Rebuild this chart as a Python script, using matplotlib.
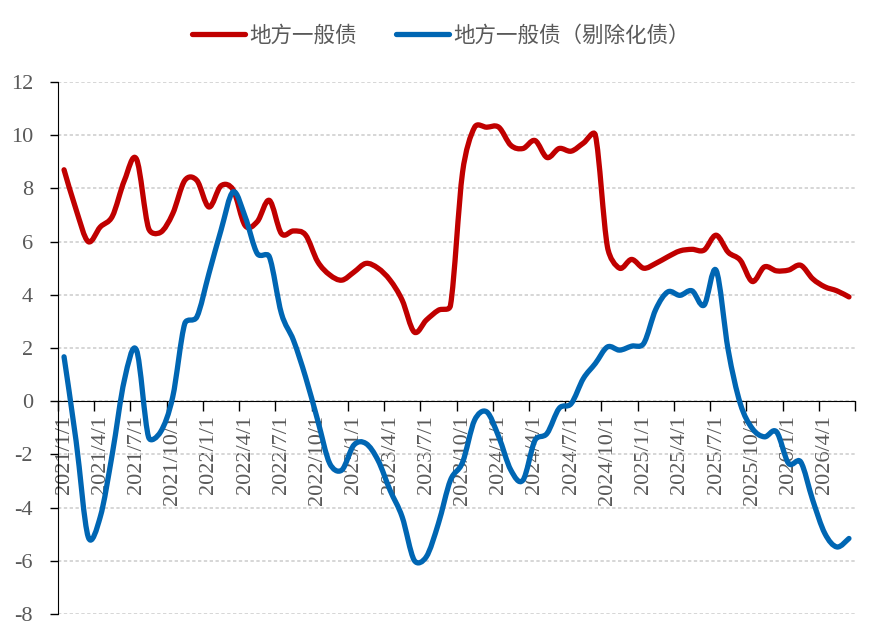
import matplotlib
matplotlib.use("Agg")
import matplotlib.pyplot as plt
from matplotlib.path import Path
from matplotlib.patches import PathPatch
from matplotlib.lines import Line2D
import numpy as np

plt.rcParams["axes.unicode_minus"] = False

# monthly values, 2021/1 .. 2026/6
local_general = [8.7, 7.2, 6.0, 6.55, 6.95, 8.3, 9.1, 6.5, 6.35, 7.05, 8.3, 8.3,
                 7.3, 8.1, 7.95, 6.6, 6.75, 7.55, 6.3, 6.4, 6.25, 5.25, 4.75, 4.55,
                 4.85, 5.18, 5.0, 4.55, 3.8, 2.6, 3.05, 3.42, 3.6, 8.6, 10.3, 10.3,
                 10.3, 9.62, 9.5, 9.8, 9.16, 9.5, 9.4, 9.7, 10.0, 5.8, 5.0, 5.33,
                 5.0, 5.18, 5.43, 5.65, 5.71, 5.68, 6.24, 5.6, 5.3, 4.5, 5.05, 4.9,
                 4.93, 5.11, 4.6, 4.3, 4.15, 3.92]
local_general_ex = [1.67, -1.5, -5.1, -4.35, -1.97, 0.8, 1.92, -1.35, -1.15, 0.16, 2.92, 3.17,
                    4.8, 6.43, 7.87, 6.93, 5.55, 5.43, 3.3, 2.29, 0.91, -0.71, -2.34, -2.59,
                    -1.65, -1.59, -2.22, -3.35, -4.35, -5.98, -5.85, -4.6, -2.97, -2.3, -0.71, -0.4,
                    -1.34, -2.59, -2.97, -1.47, -1.21, -0.27, -0.09, 0.85, 1.42, 2.04, 1.92, 2.07,
                    2.17, 3.45, 4.11, 3.98, 4.15, 3.61, 4.92, 1.92, -0.09, -1.03, -1.34, -1.15,
                    -2.34, -2.28, -3.72, -4.97, -5.48, -5.16]
tick_labels = ["2021/1/1", "2021/4/1", "2021/7/1", "2021/10/1",
               "2022/1/1", "2022/4/1", "2022/7/1", "2022/10/1",
               "2023/1/1", "2023/4/1", "2023/7/1", "2023/10/1",
               "2024/1/1", "2024/4/1", "2024/7/1", "2024/10/1",
               "2025/1/1", "2025/4/1", "2025/7/1", "2025/10/1",
               "2026/1/1", "2026/4/1"]
series_names = ["地方一般债", "地方一般债（剔除化债）"]
colors = ["#C00000", "#0066B3"]

GRAY = "#595959"
YMIN, YMAX = -8, 12


def smooth_path(x, y, sx, sy, c=0.5):
    # catmull-rom bezier, control arms capped by local chord (less overshoot, excel-ish)
    P = np.column_stack([np.asarray(x, float) * sx, np.asarray(y, float) * sy])
    n = len(P)
    verts = [P[0]]
    codes = [Path.MOVETO]
    for i in range(n - 1):
        chord = np.hypot(*(P[i + 1] - P[i]))
        a = (P[i + 1] - P[max(i - 1, 0)]) / 6
        b = (P[min(i + 2, n - 1)] - P[i]) / 6
        la, lb = np.hypot(*a), np.hypot(*b)
        if la > c * chord:
            a = a * c * chord / la
        if lb > c * chord:
            b = b * c * chord / lb
        verts += [P[i] + a, P[i + 1] - b, P[i + 1]]
        codes += [Path.CURVE4] * 3
    verts = np.array(verts) / [sx, sy]
    return Path(verts, codes)


fig = plt.figure(figsize=(8.82, 6.41), dpi=100)
ax = fig.add_axes([58 / 882, 27 / 641, 797 / 882, 532 / 641])

x = np.arange(len(local_general))
sx = 797 / len(x)
sy = 532 / (YMAX - YMIN)
handles = []
for vals, col, name in zip([local_general, local_general_ex], colors, series_names):
    p = PathPatch(smooth_path(x, vals, sx, sy), fill=False, edgecolor=col, lw=3.8,
                  capstyle="round", joinstyle="round", zorder=3)
    ax.add_patch(p)
    handles.append(Line2D([], [], color=col, lw=3.8, solid_capstyle="round", label=name))

ax.set_xlim(-0.5, len(x) - 0.5)
ax.set_ylim(YMIN, YMAX)
ax.set_yticks(np.arange(YMIN, YMAX + 1, 2))
ax.yaxis.grid(True, color="#d0d0d0", linestyle=(0, (2, 1.5)), lw=1.2)
ax.set_axisbelow(True)

for s in ["top", "right"]:
    ax.spines[s].set_visible(False)
ax.spines["bottom"].set_position(("data", 0))
ax.spines["bottom"].set_color("black")
ax.spines["left"].set_color("black")

ax.set_xticks(np.arange(-0.5, len(x), 3))
ax.set_xticklabels([])
ax.set_xticks(np.arange(0, len(x), 3), minor=True)
ax.set_xticklabels(tick_labels, minor=True, rotation=90)
ax.tick_params(axis="x", which="major", length=7, width=1, direction="out")
ax.tick_params(axis="x", which="minor", length=0, pad=10, labelsize=16, labelcolor=GRAY)
ax.tick_params(axis="y", length=6, width=1, pad=12, labelsize=16, labelcolor=GRAY)
for lab in ax.get_xticklabels(minor=True) + ax.get_yticklabels():
    lab.set_fontfamily("Liberation Serif")

leg = fig.legend(handles=handles, loc="center", bbox_to_anchor=(0.5, 0.945), ncol=2,
                 frameon=False, handlelength=2.45, handletextpad=0.2, columnspacing=1.85,
                 prop={"family": ["Noto Sans CJK SC", "DejaVu Sans"], "size": 15.5})
for t in leg.get_texts():
    t.set_color(GRAY)

fig.savefig("out.png", dpi=100)
